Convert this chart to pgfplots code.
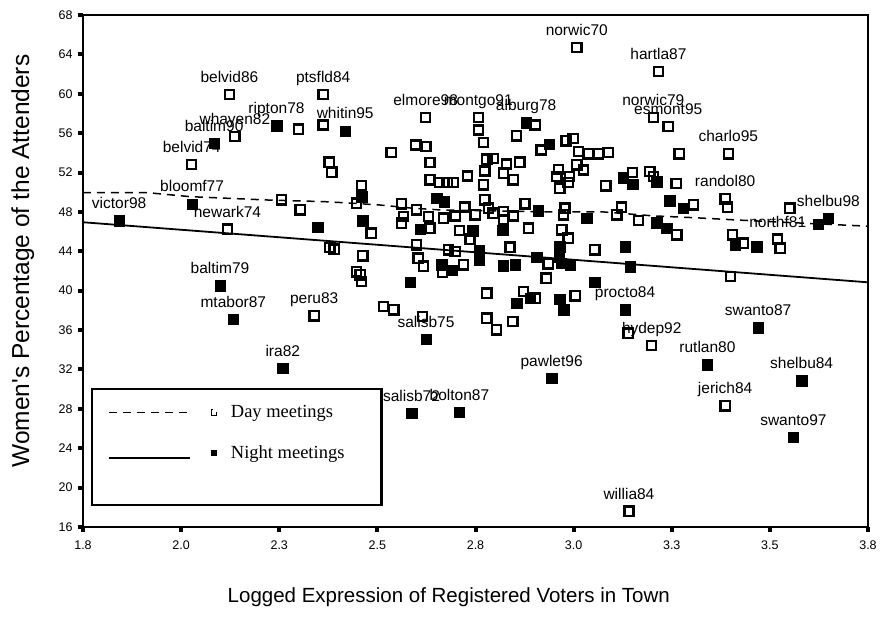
\documentclass[border=0pt]{standalone}
\usepackage{pgfplots}
\pgfplotsset{compat=1.18}
\usepackage{pgfplotstable}
\usepackage{fontspec}
\setmainfont{Liberation Sans}
\newfontfamily\legfont{Liberation Serif}

% rounded open square, thick outline
\pgfdeclareplotmark{rsq}{%
  \pgfsetlinewidth{2.3bp}%
  \pgfsetcornersarced{\pgfpoint{2.8bp}{2.8bp}}%
  \pgfpathmoveto{\pgfpoint{-4.6bp}{0bp}}%
  \pgfpathlineto{\pgfpoint{-4.6bp}{4.6bp}}%
  \pgfpathlineto{\pgfpoint{4.6bp}{4.6bp}}%
  \pgfpathlineto{\pgfpoint{4.6bp}{-4.6bp}}%
  \pgfpathlineto{\pgfpoint{-4.6bp}{-4.6bp}}%
  \pgfpathclose
  \pgfusepathqstroke}

% day meetings (open squares)
\pgfplotstableread{
x y lab
2.123 59.95 belvid86
2.362 59.95 ptsfld84
2.137 55.64 whayen82
2.299 56.40 {}
2.362 56.83 {}
2.027 52.84 belvid74
2.377 53.05 {}
2.384 52.03 {}
2.256 49.22 {}
2.303 48.20 {}
2.118 46.24 newark74
2.460 50.67 {}
2.447 48.88 {}
2.484 45.84 {}
2.379 44.38 {}
2.390 44.21 {}
2.463 43.53 {}
2.535 54.02 {}
2.623 57.61 elmore98
2.598 54.80 {}
2.624 54.63 {}
2.634 53.00 {}
2.634 51.25 {}
2.658 50.97 {}
2.678 50.97 {}
2.693 50.97 {}
2.729 51.65 {}
2.757 57.61 montgo91
2.757 56.32 {}
2.770 55.04 {}
2.779 53.35 {}
2.770 50.74 {}
2.774 49.22 {}
2.562 48.81 {}
2.600 48.20 {}
2.630 47.52 {}
2.668 47.36 {}
2.698 47.59 {}
2.723 48.48 {}
2.749 47.70 {}
2.566 47.52 {}
2.562 46.85 {}
2.634 46.35 {}
2.709 46.10 {}
2.736 45.23 {}
2.600 44.65 {}
2.681 44.14 {}
2.698 43.97 {}
2.604 43.30 {}
2.617 42.49 {}
3.008 64.68 norwic70
3.216 62.24 hartla87
3.203 57.61 norwic79
3.241 56.66 esmont95
3.394 53.89 charlo95
3.269 53.89 {}
2.902 56.83 {}
2.855 55.72 {}
2.917 54.29 {}
2.981 55.21 {}
2.999 55.48 {}
3.012 54.12 {}
3.037 53.89 {}
3.063 53.89 {}
3.088 54.02 {}
2.795 53.45 {}
2.829 52.87 {}
2.863 53.05 {}
2.774 52.16 {}
2.961 52.33 {}
2.957 51.58 {}
2.989 51.58 {}
3.008 52.77 {}
3.025 52.26 {}
2.965 50.41 {}
2.986 50.97 {}
2.846 51.25 {}
2.821 51.93 {}
2.783 48.38 {}
2.795 47.87 {}
2.821 48.03 {}
2.846 47.59 {}
2.876 48.81 {}
2.821 47.19 {}
2.885 46.35 {}
2.978 48.38 {}
2.974 47.70 {}
3.110 47.70 {}
3.122 48.48 {}
2.970 46.17 {}
3.054 44.14 {}
2.838 44.42 {}
3.165 47.12 {}
3.263 45.67 {}
3.305 48.71 {}
3.150 51.99 {}
3.082 50.64 {}
3.194 52.09 {}
3.203 51.58 {}
3.261 50.91 {}
3.386 49.32 randol80
3.392 48.48 {}
3.405 45.67 {}
3.432 44.82 {}
3.520 45.23 northf81
3.526 44.31 {}
3.551 48.38 {}
3.400 41.43 {}
3.139 35.69 {}
3.199 34.43 hydep92
3.386 28.30 jerich84
3.141 17.60 willia84
2.339 37.44 peru83
2.615 37.37 {}
2.456 41.60 {}
2.460 40.92 {}
2.515 38.39 {}
2.542 38.05 {}
2.666 41.84 {}
2.719 42.62 {}
2.779 39.75 {}
2.779 37.21 {}
2.804 36.02 {}
2.845 36.86 {}
2.872 39.91 {}
2.902 39.24 {}
3.004 39.47 {}
2.930 41.27 {}
2.935 42.72 {}
2.986 45.33 {}
2.447 41.91 {}
}\daytab

% night meetings (filled squares)
\pgfplotstableread{
x y lab
2.651 49.39 {}
2.670 49.05 {}
2.609 46.24 {}
2.743 46.10 {}
2.760 44.07 {}
2.348 46.45 {}
2.463 47.12 {}
2.460 49.55 {}
2.084 54.97 baltim90
2.243 56.76 ripton78
2.418 56.22 whitin95
2.028 48.81 bloomf77
1.842 47.12 victor98
2.879 57.07 alburg78
2.938 54.87 {}
2.910 48.13 {}
2.819 46.17 {}
3.033 47.36 {}
3.131 44.48 {}
2.965 44.48 {}
2.906 43.40 {}
3.212 46.91 {}
3.237 46.35 {}
3.245 49.12 {}
3.279 48.38 {}
3.127 51.48 {}
3.151 50.81 {}
3.212 51.08 {}
3.411 44.65 {}
3.466 44.48 {}
3.649 47.36 shelbu98
3.623 46.78 {}
2.099 40.49 baltim79
2.133 37.11 mtabor87
2.259 32.13 ira82
2.587 27.56 salisb72
2.709 27.66 bolton87
2.624 35.08 salisb75
2.583 40.86 {}
2.664 42.62 {}
2.689 42.11 {}
2.760 43.13 {}
3.144 42.45 {}
3.054 40.86 {}
3.131 38.05 procto84
3.470 36.25 swanto87
3.341 32.47 rutlan80
2.944 31.12 pawlet96
3.581 30.87 shelbu84
3.560 25.13 swanto97
2.821 42.52 {}
2.851 42.62 {}
2.963 43.46 {}
2.969 42.79 {}
2.991 42.62 {}
2.855 38.73 {}
2.889 39.24 {}
2.965 39.14 {}
2.975 38.05 {}
}\nighttab

\begin{document}
\begin{tikzpicture}
\begin{axis}[
    scale only axis,
    width=785bp, height=512bp,
    xmin=1.75, xmax=3.75, ymin=16, ymax=68,
    clip=false,
    xtick={1.75,2,2.25,2.5,2.75,3,3.25,3.5,3.75},
    xticklabels={1.8,2.0,2.3,2.5,2.8,3.0,3.3,3.5,3.8},
    ytick={16,20,...,68},
    xtick pos=bottom, ytick pos=left,
    tick align=outside,
    major tick length=5bp,
    tick style={line width=4bp, black},
    axis line style={line width=2bp},
    /pgf/number format/assume math mode=true,
    ticklabel style={font=\fontsize{12.5bp}{15bp}\selectfont},
    xticklabel style={yshift=-5bp},
    yticklabel style={xshift=-2bp},
    xlabel={Logged Expression of Registered Voters in Town},
    ylabel={Women\textquotesingle s Percentage of the Attenders},
    xlabel style={font=\fontsize{20.5bp}{24bp}\selectfont,
        at={(axis description cs:0.466,-0.1367)}, anchor=center},
    ylabel style={font=\fontsize{24.5bp}{28bp}\selectfont,
        at={(axis description cs:-0.0768,0.5195)}, anchor=center},
    legend style={at={(axis description cs:0.0102,0.2715)}, anchor=north west,
        draw=black, line width=2.2bp, inner xsep=16bp, inner ysep=16bp,
        row sep=27bp, column sep=8bp,
        font=\legfont\fontsize{18.5bp}{21bp}\selectfont,
        nodes={inner sep=0pt, anchor=base west}},
    legend cell align=left,
    every node near coord/.append style={font=\fontsize{15.5bp}{17bp}\selectfont,
        anchor=base, yshift=12bp, inner sep=0pt, black},
]
\coordinate (bl) at (rel axis cs:0,0);
\coordinate (tr) at (rel axis cs:1,1);

% markers
\addplot[only marks, mark=rsq, black, forget plot]
    table[x=x, y=y] {\daytab};
\addplot[only marks, mark=square*, mark size=5.2bp,
    mark options={draw=black, fill=black, line width=0.4bp},
    forget plot]
    table[x=x, y=y] {\nighttab};

% town labels
\addplot[only marks, mark=none, nodes near coords,
    point meta=explicit symbolic, forget plot]
    table[x=x, y=y, meta=lab] {\daytab};
\addplot[only marks, mark=none, nodes near coords,
    point meta=explicit symbolic, forget plot]
    table[x=x, y=y, meta=lab] {\nighttab};

\addplot[black, line width=1.5bp, dash pattern=on 8bp off 6bp,
    legend image code/.code={
        \draw[black, line width=1.5bp, dash pattern=on 8bp off 6bp] (0bp,5bp) -- (78bp,5bp);
        \draw[black, line width=0.6bp, fill=white] (102bp,2.2bp) rectangle (107.6bp,7.8bp);
        \path (113bp,0bp);
    }] coordinates {
    (1.75,49.96) (1.913,49.96) (2.023,49.55) (2.226,49.2) (2.361,49.05)
    (2.43,48.9) (2.507,48.7) (2.583,48.4) (2.66,48.2) (2.947,48.0)
    (3.075,48.0) (3.202,47.6) (3.314,47.4) (3.406,47.2) (3.508,47.0)
    (3.75,46.55)};
\addlegendentry{Day meetings}

\addplot[black, line width=1.8bp,
    legend image code/.code={
        \draw[black, line width=1.8bp] (0bp,1bp) -- (81bp,1bp);
        \draw[black, line width=0.6bp, fill=black] (102bp,3.2bp) rectangle (107.6bp,8.8bp);
        \path (113bp,0bp);
    }] coordinates {(1.75,46.95) (3.75,40.85)};
\addlegendentry{Night meetings\hspace*{21bp}}

\addlegendimage{empty legend}
\addlegendentry{}
\end{axis}
\pgfresetboundingbox
\path ([xshift=-83bp,yshift=-90bp]bl) rectangle ([xshift=12bp,yshift=15bp]tr);
\end{tikzpicture}
\end{document}
